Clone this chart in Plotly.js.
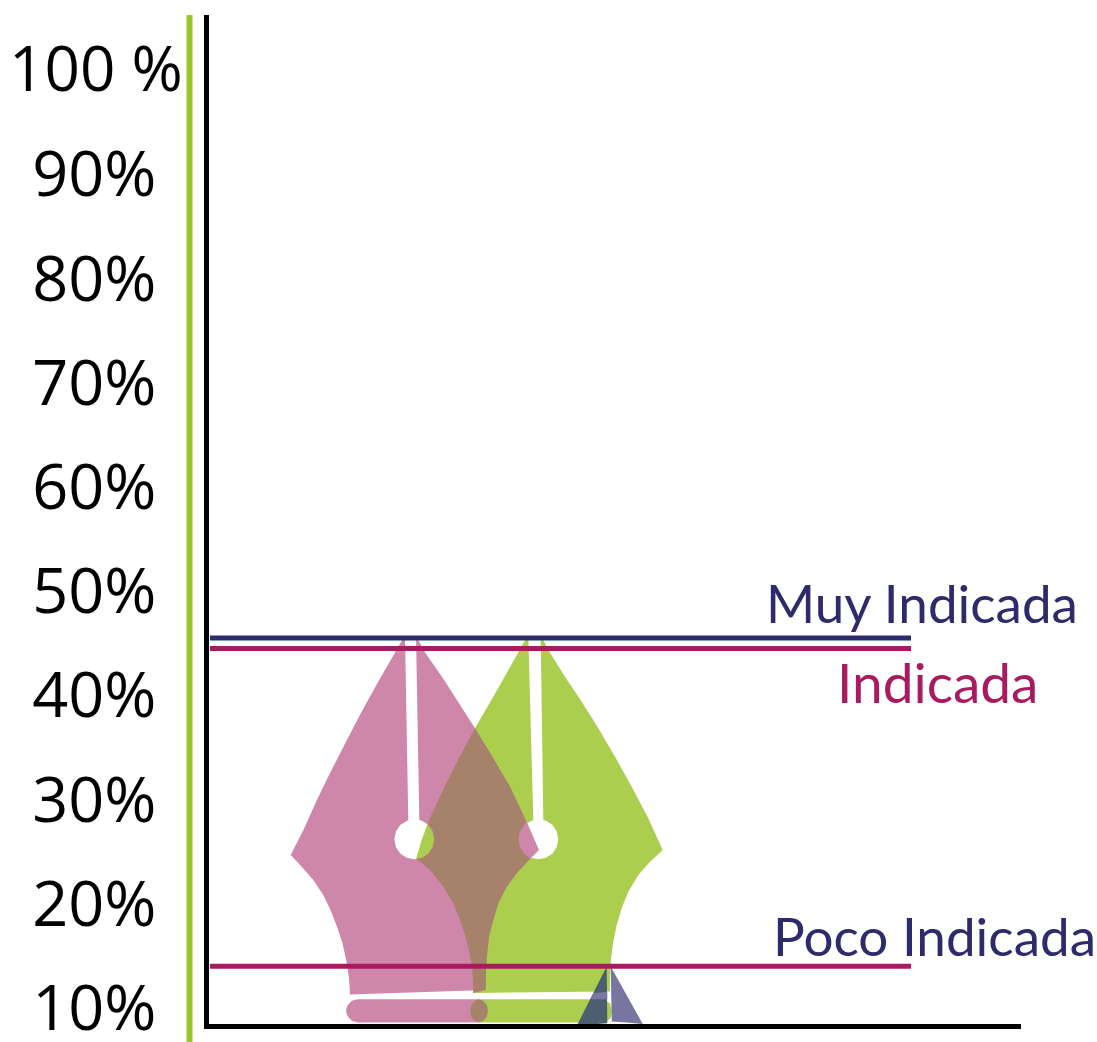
<!DOCTYPE html>
<html><head><meta charset="utf-8">
<script src="https://cdn.plot.ly/plotly-3.0.1.min.js"></script>
<style>html,body{margin:0;padding:0;background:#fff}#c{width:1097px;height:1042px}</style>
</head><body><div id="c"></div>
<script>
// Tick labels (percent axis)
const tickValues = [10,20,30,40,50,60,70,80,90];
const tickLabels = ["10%","20%","30%","40%","50%","60%","70%","80%","90%"];
const topLabel = "100 %";
// Reference levels
const levelX = [4,705];
const muyValue = 45.5, indicadaValue = 44.5, pocoValue = 14.0;
// Pink nib outline
const pinkX = [199,202.3,194.2,189.9,188.3,189.9,194.2,200.7,208.3,216,222.5,226.8,228.3,226.8,222.5,216,213.3,210,217.3,237.3,269,287.3,304,320.7,333,324,310.7,300.7,292.3,287.3,283.3,281.3,280,279.7,144,143,140.5,136.5,131,124.5,117.3,107.3,95.7,84.7,97.4,110.9,123.9,139.2,155.6,173.2,188.6,199];
const pinkY = [45.8,28.05,27.55,26.93,26.19,25.45,24.83,24.42,24.27,24.42,24.83,25.45,26.19,26.93,27.55,27.96,28.05,45.8,44.36,41.6,36.84,33.96,31.24,27.88,25.16,24.3,22.93,21.64,20.05,18.45,17,15.4,13.81,11.73,11.3,12.85,14.44,16.21,17.8,19.4,20.84,22.28,23.56,24.68,27.08,29.96,32.52,35.4,38.44,41.48,44.04,45.8];
// Green nib outline
const greenX = [322.3,327.3,318.2,313.9,312.3,313.9,318.2,324.7,332.3,340,346.5,350.8,352.3,350.8,346.5,340,337.3,334.7,342.3,359,375.7,392.3,409,425.7,442.3,456.7,444,432.3,422.3,415.7,410.7,407.3,405,404,404,267.3,266.3,263.3,259,254,247.3,237.3,224,210,215.7,222.3,237.3,254,269,294,317.3,322.3];
const greenY = [45.8,28.05,27.55,26.93,26.19,25.45,24.83,24.42,24.27,24.42,24.83,25.45,26.19,26.93,27.55,27.96,28.05,45.8,44.36,41.79,39.4,36.84,34.12,31.24,28.2,25.16,24.04,22.76,21.16,19.57,17.97,16.36,14.77,13,11.57,11.44,13.81,15.4,17,18.45,20.05,21.64,23.24,24.3,26.12,27.88,30.99,34.18,36.84,41,45,45.8];
// Where the two nibs overlap
const overlapX = [269,287.3,304,320.2,318.2,313.9,312.3,313.9,318.2,324.2,310.7,300.7,292.3,287.3,283.3,281.3,280,279.7,267.3,266.3,263.3,259,254,247.3,237.3,224,210.7,216,222.5,226.8,228.3,226.8,222.5,222.3,237.3,254,269];
const overlapY = [36.84,33.96,31.24,27.9,27.55,26.93,26.19,25.45,24.83,24.35,22.93,21.64,20.05,18.45,17,15.4,13.81,11.73,11.44,13.81,15.4,17,18.45,20.05,21.64,23.24,24.28,24.42,24.83,25.45,26.19,26.93,27.55,27.88,30.99,34.18,36.84];
// Nib collars
const pinkCollarX = [151.7,273,273,151.7,145.7,141.3,140,141.3,145.7,151.7];
const pinkCollarY = [10.84,10.84,8.6,8.6,8.76,9.24,9.72,10.2,10.68,10.84];
const greenCollarX = [273,397.3,404,405.7,404.7,399,273,273];
const greenCollarY = [10.84,10.84,10.45,9.72,9.01,8.6,8.6,10.84];
const overlapCollarX = [282,280.7,277.3,273,268.7,265.3,264,265.3,268.7,273,277.3,280.7,282];
const overlapCollarY = [9.72,10.29,10.68,10.84,10.68,10.29,9.72,9.14,8.76,8.6,8.76,9.14,9.72];
// Small navy nib
const navyLeftX = [400.7,401.3,389,370.7,400.7];
const navyLeftY = [13.97,8.53,8.44,8.28,13.97];
const navyBandX = [387.7,401.3,401.3,384,387.7];
const navyBandY = [11.44,11.54,10.84,10.84,11.44];
const navyRightX = [404.7,436.7,420.7,405.7,404.7];
const navyRightY = [13.97,8.47,8.6,8.69,13.97];
// Green rule beside the axis (paper fractions)
const ruleX = -0.024;
const ruleY = [-0.0178,1];

const NAVY="#2E2A6B", MAG="#A91B60";
const poly=(x,y,c)=>({type:"scatter",mode:"lines",x,y,fill:"toself",fillcolor:c,line:{width:0,color:c,simplify:false},hoverinfo:"skip",showlegend:false,cliponaxis:false});
const hline=(v,c,w)=>({type:"scatter",mode:"lines",x:levelX,y:[v,v],line:{color:c,width:w},hoverinfo:"skip",showlegend:false});
const data=[
 poly(greenX,greenY,"#ABCE4E"),
 poly(pinkX,pinkY,"#CE87AB"),
 poly(overlapX,overlapY,"#A7826B"),
 poly(greenCollarX,greenCollarY,"#ABCE4E"),
 poly(pinkCollarX,pinkCollarY,"#CE87AB"),
 poly(overlapCollarX,overlapCollarY,"#A7826B"),
 poly(navyLeftX,navyLeftY,"#4C5E70"),
 poly(navyBandX,navyBandY,"#7B78A0"),
 poly(navyRightX,navyRightY,"#7875A0"),
 hline(muyValue,NAVY,5),
 hline(indicadaValue,MAG,5),
 hline(pocoValue,MAG,5)
];
const LBL='Lato, sans-serif';
const TICK='"Open Sans", sans-serif';
const layout={
 width:1097,height:1042,paper_bgcolor:"#fff",plot_bgcolor:"#fff",showlegend:false,
 margin:{l:209,r:76,t:15,b:18,pad:0},
 xaxis:{range:[3,815],showgrid:false,zeroline:false,showticklabels:false,ticks:"",showline:true,linecolor:"#000",linewidth:5,fixedrange:true},
 yaxis:{range:[8.46,105.3],showgrid:false,zeroline:false,tickmode:"array",tickvals:tickValues,ticktext:tickLabels,ticks:"",ticklabelstandoff:35,ticklabeloverflow:"allow",showline:true,linecolor:"#000",linewidth:5,fixedrange:true,
   tickfont:{family:TICK,size:63,color:"#000"}},
 shapes:[{type:"line",xref:"paper",yref:"paper",x0:ruleX,x1:ruleX,y0:ruleY[0],y1:ruleY[1],line:{color:"#9CC62B",width:6},layer:"above"}],
 annotations:[
  {xref:"paper",yref:"y",x:-0.0295,y:100.3,xanchor:"right",yanchor:"middle",text:topLabel,showarrow:false,font:{family:TICK,size:62,color:"#000"}},
  {xref:"x",yref:"y",x:715.5,y:48.87,xanchor:"center",yanchor:"middle",text:"Muy Indicada",showarrow:false,font:{family:LBL,size:53,color:NAVY}},
  {xref:"x",yref:"y",x:731,y:41.29,xanchor:"center",yanchor:"middle",text:"Indicada",showarrow:false,font:{family:LBL,size:55,color:MAG}},
  {xref:"x",yref:"y",x:728.5,y:17.0,xanchor:"center",yanchor:"middle",text:"Poco Indicada",showarrow:false,font:{family:LBL,size:53,color:NAVY}}
 ]
};
Plotly.newPlot("c",data,layout,{displayModeBar:false,staticPlot:true});
</script></body></html>
